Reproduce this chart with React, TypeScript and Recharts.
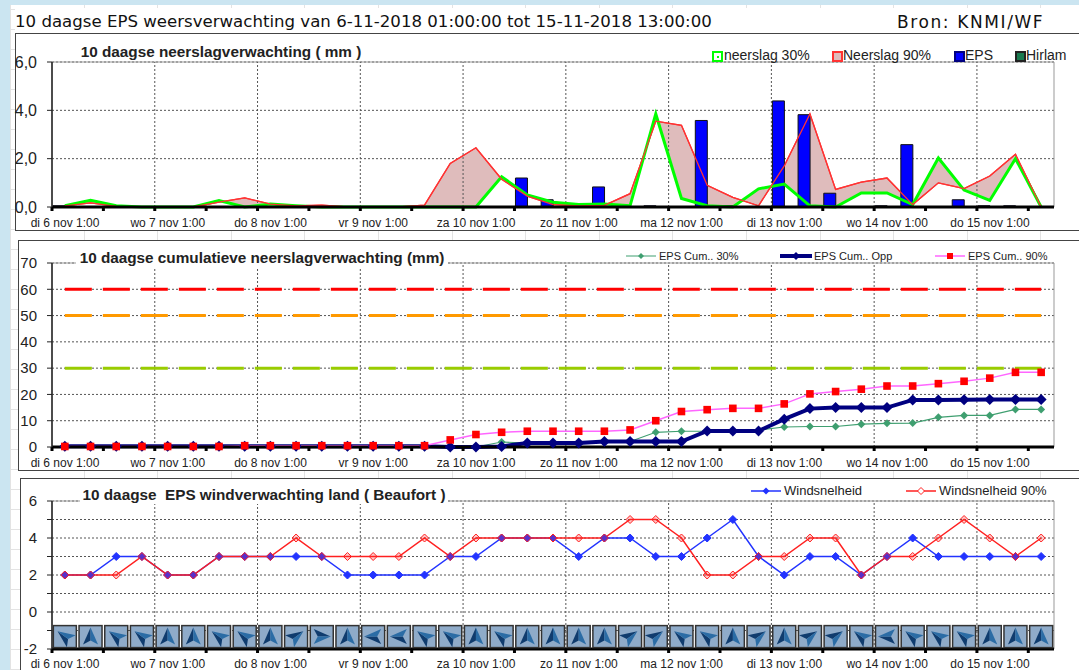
import React from 'react';
import {
  ComposedChart,
  Area,
  Bar,
  Line,
  XAxis,
  YAxis,
  CartesianGrid,
  ReferenceLine,
  ReferenceArea,
} from 'recharts';

const dayLabels = [
  'di 6 nov 1:00', 'wo 7 nov 1:00', 'do 8 nov 1:00', 'vr 9 nov 1:00', 'za 10 nov 1:00',
  'zo 11 nov 1:00', 'ma 12 nov 1:00', 'di 13 nov 1:00', 'wo 14 nov 1:00', 'do 15 nov 1:00',
];

// 6-hourly slots, 39 in total
const rain30 = [0.05, 0.28, 0.05, 0, 0, 0, 0.27, 0, 0.12, 0.05, 0, 0, 0, 0, 0, 0, 0, 1.25, 0.5, 0.2, 0.1, 0.12, 0.05, 3.85, 0.35, 0.05, 0, 0.75, 0.95, 0.05, 0, 0.58, 0.58, 0.1, 2.03, 0.7, 0.27, 2.0, 0];
const rain90 = [0.05, 0.17, 0.03, 0, 0, 0, 0.2, 0.38, 0.12, 0.05, 0.08, 0, 0, 0, 0.08, 1.8, 2.45, 1.15, 0.45, 0.1, 0.05, 0.07, 0.55, 3.55, 3.38, 0.9, 0.4, 0.05, 1.7, 3.85, 0.73, 1.03, 1.2, 0.1, 1.0, 0.76, 1.28, 2.18, 0];
const rainEps = [0.05, 0, 0, 0, 0, 0, 0, 0, 0, 0, 0, 0, 0, 0, 0, 0, 0, 0, 1.2, 0.3, 0, 0.83, 0.05, 0.05, 0, 3.58, 0.05, 0, 4.39, 3.82, 0.57, 0, 0.05, 2.58, 0, 0.3, 0.05, 0.05, 0];
const rainHirlam = [0, 0, 0, 0, 0, 0, 0, 0, 0, 0, 0, 0, 0, 0, 0, 0, 0, 0, 0, 0, 0, 0, 0, 0, 0, 0, 0, 0, 0, 0, 0, 0, 0, 0, 0, 0, 0, 0, 0];

const cum30 = [0, 0, 0, 0, 0, 0, 0, 0, 0, 0, 0, 0, 0, 0, 0, 0, 0, 1.9, 1.5, 1.5, 1.5, 2.1, 2.1, 5.6, 6, 6, 6, 6.5, 7.6, 7.8, 7.8, 8.7, 9, 9.1, 11.3, 12, 12, 14.3, 14.3];
const cumOpp = [0.3, 0.3, 0.3, 0.3, 0.3, 0.3, 0.3, 0.3, 0.3, 0.3, 0.3, 0.3, 0.3, 0.3, 0.3, 0, 0, 0.2, 1.5, 1.5, 1.5, 2.1, 2.1, 2.1, 2.1, 6.1, 6.1, 6.1, 10.6, 14.6, 15, 15, 15, 17.9, 17.9, 18, 18.1, 18.1, 18.1];
const cum90 = [0.2, 0.2, 0.2, 0.2, 0.2, 0.2, 0.2, 0.5, 0.5, 0.5, 0.5, 0.5, 0.5, 0.5, 0.5, 2.7, 4.75, 5.6, 6, 6, 6, 6, 6.5, 10, 13.5, 14.2, 14.7, 14.7, 16.4, 20.2, 21.1, 22, 23.2, 23.2, 24.1, 25, 26.2, 28.4, 28.4];
const thresholds = [
  { key: 'limit60', value: 60, color: '#ff0000' },
  { key: 'limit50', value: 50, color: '#ff9900' },
  { key: 'limit30', value: 30, color: '#99cc00' },
];

const windMean = [2, 2, 3, 3, 2, 2, 3, 3, 3, 3, 3, 2, 2, 2, 2, 3, 3, 4, 4, 4, 3, 4, 4, 3, 3, 4, 5, 3, 2, 3, 3, 2, 3, 4, 3, 3, 3, 3, 3];
const wind90 = [2, 2, 2, 3, 2, 2, 3, 3, 3, 4, 3, 3, 3, 3, 4, 3, 4, 4, 4, 4, 4, 4, 5, 5, 4, 2, 2, 3, 3, 4, 4, 2, 3, 3, 4, 5, 4, 3, 4];
// arrow heading in degrees, 0 = up
const windDir = [306, 0, 306, 306, 0, 0, 306, 306, 0, 54, 90, 0, 270, 270, 306, 306, 0, 306, 0, 0, 0, 0, 54, 54, 306, 306, 0, 54, 0, 54, 54, 306, 270, 306, 306, 306, 0, 0, 0];

const slots = rain30.map((_, i) => i + 0.5);
const gridTicks = slots.filter((_, i) => i % 2 === 0).map((s) => s - 0.5);
const dayTicks = gridTicks.filter((t) => t % 4 === 0);

const rainData = slots.map((x, i) => ({ x, p30: rain30[i], p90: rain90[i], eps: rainEps[i], hirlam: rainHirlam[i] }));
const cumData = slots.map((x, i) => ({
  x, p30: cum30[i], opp: cumOpp[i], p90: cum90[i], limit60: 60, limit50: 50, limit30: 30,
}));
const windData = slots.map((x, i) => ({ x, mean: windMean[i], p90: wind90[i], icon: -1.33, dir: windDir[i] }));

const ARIAL = '"Liberation Sans", Arial, sans-serif';
const WIDTH = 1079;
const PLOT_LEFT = 52;
const PLOT_RIGHT = 1054;
const GRID = '#555';

const XTick = ({ x, y, payload, dy }: any) =>
  payload.value % 4 === 0 ? (
    <text x={x + 13} y={y + dy} textAnchor="middle" fontSize={12} fontFamily={ARIAL} fill="#222">
      {dayLabels[payload.value / 4]}
    </text>
  ) : (
    <g />
  );

const Diamond = ({ cx, cy, r, fill, stroke }: any) => (
  <path d={`M${cx} ${cy - r}L${cx + r} ${cy}L${cx} ${cy + r}L${cx - r} ${cy}Z`} fill={fill} stroke={stroke} />
);

const Square = ({ cx, cy, r, fill }: any) => <rect x={cx - r} y={cy - r} width={r * 2} height={r * 2} fill={fill} />;

const WindIcon = ({ cx, cy, deg }: any) => (
  <g>
    <rect x={cx - 11.5} y={cy - 11} width={23} height={22} fill="#8fabc9" stroke="#333" strokeWidth={1.5} />
    <g transform={`rotate(${deg} ${cx} ${cy})`}>
      <path d={`M${cx} ${cy - 9}L${cx - 7.5} ${cy + 8}L${cx} ${cy + 4}Z`} fill="#103c6e" />
      <path d={`M${cx} ${cy - 9}L${cx + 7.5} ${cy + 8}L${cx} ${cy + 4}Z`} fill="#2b6ca5" />
    </g>
  </g>
);

const axisParts = (dy: number) => ({
  type: 'number' as const,
  dataKey: 'x',
  domain: [0, 39],
  ticks: gridTicks,
  interval: 0 as const,
  height: 22,
  tickSize: 4,
  axisLine: { stroke: '#000', strokeWidth: 3 },
  tickLine: { stroke: '#000', strokeWidth: 3 },
  tick: (p: any) => <XTick {...p} dy={dy} />,
});

const yAxisParts = (fontSize: number) => ({
  width: PLOT_LEFT - 6,
  interval: 0 as const,
  tickSize: 5,
  tickMargin: 10,
  axisLine: { stroke: '#222', strokeWidth: 1.5 },
  tickLine: { stroke: '#222' },
  tick: { fill: '#222', fontSize, fontFamily: ARIAL },
});

const dayLines = () =>
  dayTicks.slice(1).map((t) => (
    <ReferenceLine key={t} x={t} stroke={GRID} strokeDasharray="2 2" />
  ));

const PanelTitle = ({ left, top, width, children }: any) => (
  <div
    style={{
      position: 'absolute', left, top, width, height: 18, lineHeight: '18px', background: '#fff',
      font: `bold 15.3px ${ARIAL}`, color: '#222', whiteSpace: 'pre', textAlign: 'center',
    }}
  >
    {children}
  </div>
);

const LegendText = ({ left, top, size, children }: any) => (
  <div
    style={{
      position: 'absolute', left, top, fontFamily: ARIAL, fontSize: size, lineHeight: '16px',
      color: '#222', whiteSpace: 'nowrap',
    }}
  >
    {children}
  </div>
);

const Swatch = ({ left, top, fill, border, inner }: any) => (
  <div
    style={{
      position: 'absolute', left, top, width: 7, height: 7, background: fill, border: `2px solid ${border}`,
      display: 'flex', alignItems: 'center', justifyContent: 'center',
    }}
  >
    {inner && <div style={{ width: 2, height: 2, background: inner }} />}
  </div>
);

const LegendLine = ({ left, top, width, color, weight = 1, marker }: any) => (
  <svg style={{ position: 'absolute', left, top }} width={width} height={12}>
    <line x1={0} x2={width} y1={6} y2={6} stroke={color} strokeWidth={weight} />
    {marker}
  </svg>
);

const Frame = ({ left, top, height }: any) => (
  <div
    style={{
      position: 'absolute', left, top, right: -2, height, background: '#fff',
      border: '1.5px solid #444', boxSizing: 'border-box',
    }}
  />
);

const sheetBackground = [
  'repeating-linear-gradient(90deg, #e3e3e3 0 1px, transparent 1px 73.6px)',
  'repeating-linear-gradient(0deg, #e3e3e3 0 1px, transparent 1px 20px)',
].join(',');

export default function App() {
  return (
    <div style={{ position: 'absolute', left: 0, top: 0, width: WIDTH, height: 670, overflow: 'hidden', background: '#cbe5f1' }}>
      <div style={{ position: 'absolute', left: 10, top: 5, right: 0, bottom: 0, background: '#fff', backgroundImage: sheetBackground }} />

      {/* header row */}
      <div style={{ position: 'absolute', left: 15, top: 8, right: 0, height: 26, background: '#fff' }} />
      <div style={{ position: 'absolute', left: 15, top: 12, font: '16.6px "DejaVu Sans", sans-serif', color: '#111', whiteSpace: 'nowrap' }}>
        10 daagse EPS weersverwachting van 6-11-2018 01:00:00 tot 15-11-2018 13:00:00
      </div>
      <div style={{ position: 'absolute', left: 897, top: 12, font: '17px "DejaVu Sans", sans-serif', letterSpacing: 1.6, color: '#111', whiteSpace: 'nowrap' }}>
        Bron: KNMI/WF
      </div>

      <Frame left={15} top={33} height={198} />
      <Frame left={18} top={240} height={231} />
      <Frame left={20} top={478} height={200} />

      {/* neerslag */}
      <div style={{ position: 'absolute', left: 0, top: 34 }}>
        <ComposedChart width={WIDTH} height={196} data={rainData} barSize={12} barGap={0}
          margin={{ top: 28, right: WIDTH - PLOT_RIGHT, bottom: 1, left: 6 }}>
          <CartesianGrid vertical={false} stroke={GRID} strokeDasharray="2 2" />
          <ReferenceArea x1={0} x2={39} y1={0} y2={6} fill="none" stroke="#999" />
          {dayLines()}
          <Line dataKey="p30" stroke="#00ff00" strokeWidth={3} dot={false} isAnimationActive={false} />
          <Line dataKey="p90" stroke="#ff3333" strokeWidth={1.3} dot={false} isAnimationActive={false} />
          <Area dataKey={(d: any) => [d.p30, d.p90]} type="linear" stroke="#ff3333" strokeWidth={1.3} fill="#dfbcbc" fillOpacity={1} isAnimationActive={false} />
          <Bar dataKey="eps" fill="#0000ff" stroke="#111" isAnimationActive={false} />
          <Bar dataKey="hirlam" fill="#1a7a4f" stroke="#111" isAnimationActive={false} />
          <XAxis {...axisParts(13.5)} />
          <YAxis {...yAxisParts(16)} domain={[0, 6]} ticks={[0, 2, 4, 6]} tickFormatter={(v: number) => v.toFixed(1).replace('.', ',')} />
        </ComposedChart>
      </div>
      <PanelTitle left={78} top={43} width={286}>10 daagse neerslagverwachting ( mm )</PanelTitle>
      <Swatch left={712} top={51} fill="#fff" border="#00ff00" inner="#00ff00" />
      <LegendText left={724} top={47} size={14}>neerslag 30%</LegendText>
      <Swatch left={832} top={51} fill="#dfbcbc" border="#ff3333" />
      <LegendText left={843} top={47} size={14}>Neerslag 90%</LegendText>
      <Swatch left={954} top={51} fill="#0000ff" border="#000080" />
      <LegendText left={965} top={47} size={14}>EPS</LegendText>
      <Swatch left={1015} top={51} fill="#1a7a4f" border="#222" />
      <LegendText left={1026} top={47} size={14}>Hirlam</LegendText>

      {/* cumulatief */}
      <div style={{ position: 'absolute', left: 0, top: 240 }}>
        <ComposedChart width={WIDTH} height={231} data={cumData}
          margin={{ top: 23, right: WIDTH - PLOT_RIGHT, bottom: 2, left: 6 }}>
          <CartesianGrid vertical={false} stroke={GRID} strokeDasharray="2 2" />
          <ReferenceArea x1={0} x2={39} y1={0} y2={70} fill="none" stroke="#999" />
          {dayLines()}
          {thresholds.map((t) => (
            <Line key={t.key} dataKey={t.key} stroke={t.color} strokeWidth={3} strokeDasharray="27 11" dot={false} isAnimationActive={false} />
          ))}
          <Line dataKey="p30" stroke="#3f9f70" strokeWidth={1.2} isAnimationActive={false}
            dot={(p: any) => <Diamond key={p.index} cx={p.cx} cy={p.cy} r={4} fill="#3f9f70" />} />
          <Line dataKey="opp" stroke="#000080" strokeWidth={4} isAnimationActive={false}
            dot={(p: any) => <Diamond key={p.index} cx={p.cx} cy={p.cy} r={5.5} fill="#000080" />} />
          <Line dataKey="p90" stroke="#ff66ff" strokeWidth={1.5} isAnimationActive={false}
            dot={(p: any) => <Square key={p.index} cx={p.cx} cy={p.cy} r={3.8} fill="#ff0000" />} />
          <XAxis {...axisParts(13.5)} />
          <YAxis {...yAxisParts(15)} domain={[0, 70]} ticks={[0, 10, 20, 30, 40, 50, 60, 70]} />
        </ComposedChart>
      </div>
      <PanelTitle left={76} top={249} width={372}>10 daagse cumulatieve neerslagverwachting (mm)</PanelTitle>
      <LegendLine left={626} top={250} width={30} color="#3f9f70" marker={<Diamond cx={15} cy={6} r={3} fill="#3f9f70" />} />
      <LegendText left={659} top={248} size={11}>EPS Cum.. 30%</LegendText>
      <LegendLine left={780} top={250} width={32} color="#000080" weight={4} marker={<Diamond cx={16} cy={6} r={4} fill="#000080" />} />
      <LegendText left={814} top={248} size={11}>EPS Cum.. Opp</LegendText>
      <LegendLine left={935} top={250} width={30} color="#ff66ff" weight={1.5} marker={<Square cx={15} cy={6} r={3} fill="#ff0000" />} />
      <LegendText left={968} top={248} size={11}>EPS Cum.. 90%</LegendText>

      {/* wind */}
      <div style={{ position: 'absolute', left: 0, top: 478 }}>
        <ComposedChart width={WIDTH} height={192} data={windData}
          margin={{ top: 23, right: WIDTH - PLOT_RIGHT, bottom: -1, left: 6 }}>
          <CartesianGrid vertical={false} stroke={GRID} strokeDasharray="2 2" />
          <ReferenceArea x1={0} x2={39} y1={-2} y2={6} fill="none" stroke="#999" />
          {dayLines()}
          <Line dataKey="mean" stroke="#2233ff" strokeWidth={1.5} isAnimationActive={false}
            dot={(p: any) => <Diamond key={p.index} cx={p.cx} cy={p.cy} r={4} fill="#2233ff" stroke="#2233ff" />} />
          <Line dataKey="p90" stroke="#ff2020" strokeWidth={1.5} isAnimationActive={false}
            dot={(p: any) => <Diamond key={p.index} cx={p.cx} cy={p.cy} r={4} fill="rgba(255,40,40,.25)" stroke="#ff2020" />} />
          <Line dataKey="icon" stroke="none" isAnimationActive={false}
            dot={(p: any) => <WindIcon key={p.index} cx={p.cx} cy={p.cy} deg={p.payload.dir} />} />
          <XAxis {...axisParts(12.5)} />
          <YAxis {...yAxisParts(15)} domain={[-2, 6]} ticks={[-2, -1, 0, 1, 2, 3, 4, 5, 6]} tickFormatter={(v: number) => (v % 2 === 0 ? String(v) : '')} />
        </ComposedChart>
      </div>
      <PanelTitle left={80} top={486} width={368}>10 daagse  EPS windverwachting land ( Beaufort )</PanelTitle>
      <LegendLine left={751} top={485} width={30} color="#2233ff" weight={1.5} marker={<Diamond cx={15} cy={6} r={3.5} fill="#2233ff" />} />
      <LegendText left={784} top={483} size={13}>Windsnelheid</LegendText>
      <LegendLine left={906} top={485} width={30} color="#ff2020" weight={1.5} marker={<Diamond cx={15} cy={6} r={3.5} fill="#fff" stroke="#ff2020" />} />
      <LegendText left={939} top={483} size={13}>Windsnelheid 90%</LegendText>
    </div>
  );
}
